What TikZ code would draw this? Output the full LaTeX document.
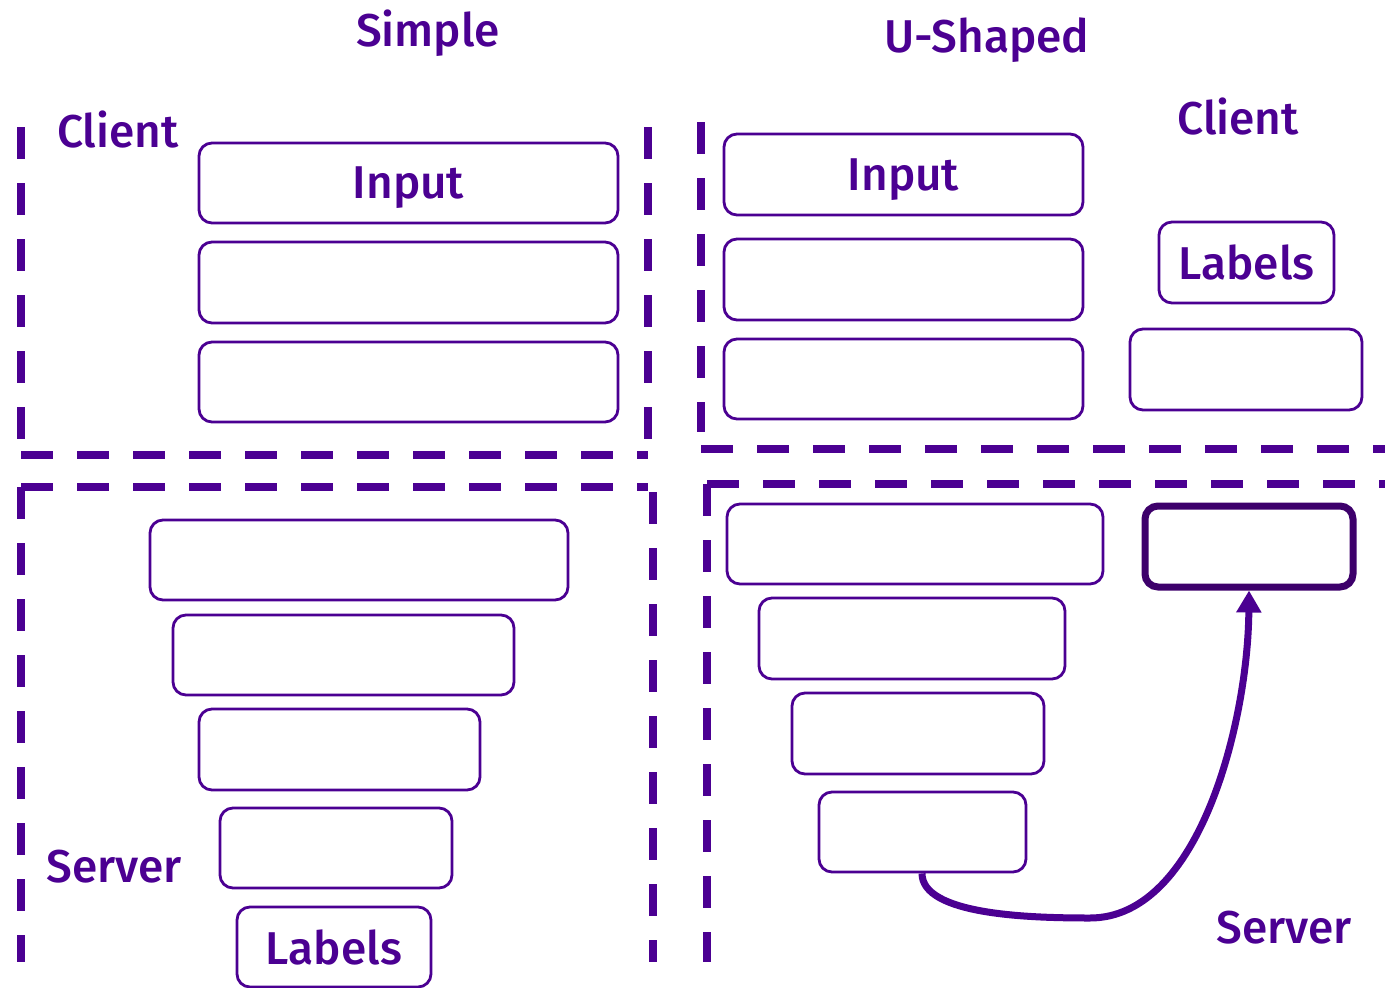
\documentclass[tikz,border=0pt]{standalone}
\usepackage{fontspec}
\setmainfont{Fira Sans Medium}
\usetikzlibrary{arrows.meta}
\definecolor{violet}{HTML}{4B0092}
\definecolor{deepviolet}{HTML}{3D006B}
\begin{document}
\begin{tikzpicture}[x=1pt,y=-1pt,
  divider/.style={draw=violet,line width=8pt,dash pattern=on 32pt off 24pt},
  layer/.style={draw=violet,line width=2.8pt,rounded corners=13pt,inner sep=0pt,
    text=violet,text depth=0pt,font=\fontsize{46}{50}\selectfont},
  heading/.style={text=violet,font=\fontsize{46}{50}\selectfont,inner sep=0pt}]
\useasboundingbox (0,0) rectangle (1385,988);
% partition lines
\draw[divider] (21,127) -- (21,442);
\draw[divider] (21,455) -- (648,455);
\draw[divider] (648,127) -- (648,442);
\draw[divider] (21,487) -- (648,487);
\draw[divider] (21,487) -- (21,962);
\draw[divider] (653,492) -- (653,962);
\draw[divider] (701,122) -- (701,432);
\draw[divider] (701,449) -- (1385,449);
\draw[divider] (707,484) -- (1385,484);
\draw[divider] (707,484) -- (707,962);
% titles and side labels
\node[heading] (tsimple) at (428,33) {Simple};
\node[heading] (tushaped) at (987,40) {U-Shaped};
\node[heading] (lclient) at (118,130) {Client};
\node[heading] (rclient) at (1238,117) {Client};
\node[heading] (lserver) at (114,867) {Server};
\node[heading] (rserver) at (1284,928) {Server};
% simple model: client part
\node[layer,minimum width=419pt,minimum height=80pt] (a1) at (408.5,183) {Input};
\node[layer,minimum width=419pt,minimum height=81pt] (a2) at (408.5,282.5) {};
\node[layer,minimum width=419pt,minimum height=80pt] (a3) at (408.5,382) {};
% simple model: server part
\node[layer,minimum width=418pt,minimum height=80pt] (b1) at (359,560) {};
\node[layer,minimum width=341pt,minimum height=80pt] (b2) at (343.5,655) {};
\node[layer,minimum width=281pt,minimum height=81pt] (b3) at (339.5,749.5) {};
\node[layer,minimum width=232pt,minimum height=80pt] (b4) at (336,848) {};
\node[layer,minimum width=194pt,minimum height=80pt] (b5) at (334,947) {Labels};
% U-shaped model: client part
\node[layer,minimum width=359pt,minimum height=81pt] (c1) at (903.5,174.5) {Input};
\node[layer,minimum width=359pt,minimum height=81pt] (c2) at (903.5,279.5) {};
\node[layer,minimum width=359pt,minimum height=80pt] (c3) at (903.5,379) {};
\node[layer,minimum width=175pt,minimum height=81pt] (cl) at (1246.5,262.5) {Labels};
\node[layer,minimum width=232pt,minimum height=81pt] (c4) at (1246,369.5) {};
% U-shaped model: server part
\node[layer,minimum width=376pt,minimum height=80pt] (d1) at (915,544) {};
\node[layer,minimum width=306pt,minimum height=81pt] (d2) at (912,638.5) {};
\node[layer,minimum width=252pt,minimum height=81pt] (d3) at (918,733.5) {};
\node[layer,minimum width=207pt,minimum height=80pt] (d4) at (922.5,832) {};
\node[layer,draw=deepviolet,line width=7pt,minimum width=208pt,minimum height=81pt] (e) at (1249,546.5) {};
% activations returned to the client head
\coordinate (dstart) at ([xshift=-0.5pt]d4.south);
\draw[violet,line width=7pt,-{Triangle[length=22pt,width=24pt]}]
  (dstart) .. controls (922,915) and (1030,918) .. (1090,918)
  .. controls (1200,918) and (1248,720) .. (e.south);
\end{tikzpicture}
\end{document}
